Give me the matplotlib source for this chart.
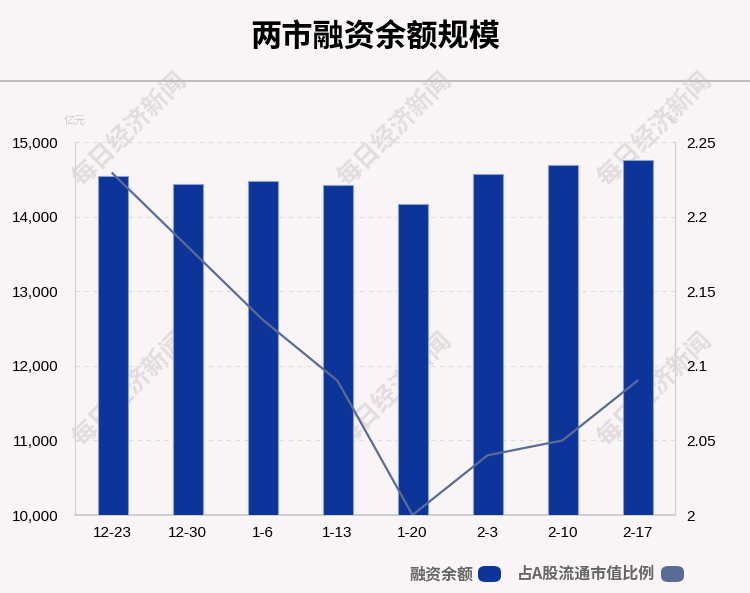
import numpy as np
import matplotlib
matplotlib.use('Agg')
from matplotlib import pyplot as plt
from matplotlib.patches import FancyBboxPatch

plt.rcParams['font.family'] = ['Liberation Sans', 'Noto Sans CJK SC', 'DejaVu Sans']

dates = ['12-23', '12-30', '1-6', '1-13', '1-20', '2-3', '2-10', '2-17']
balance = [14550, 14440, 14480, 14420, 14170, 14570, 14695, 14760]
ratio = [2.229, 2.18, 2.131, 2.09, 2.0, 2.04, 2.05, 2.09]

bg = '#f9f5f7'
bar_color = '#0d3499'
line_color = '#5a6b96'
cjk = ['Noto Sans CJK SC', 'DejaVu Sans']

fig = plt.figure(figsize=(7.5, 5.93), dpi=100)
fig.patch.set_facecolor(bg)

# title and separator
fig.text(0.5, 0.936, '两市融资余额规模', ha='center', va='center',
         fontsize=22.5, fontweight='bold', family=cjk)
fig.add_artist(plt.Line2D([0, 1], [1 - 81/593, 1 - 81/593], color='#bdbdbd', lw=1.5))

# watermarks (behind the plot)
for wx in [130, 395, 655]:
    for wy in [130, 390]:
        fig.text(wx/750, 1 - wy/593, '每日经济新闻', ha='center', va='center',
                 rotation=45, fontsize=18, fontweight='bold', color='#e3dcdf',
                 family=cjk, zorder=-1)

ax = fig.add_axes([0.1, 0.1315, 0.8, 0.629])
ax.set_facecolor('none')
x = np.arange(len(dates))
ax.bar(x, balance, width=0.4, color=bar_color, edgecolor='#8ea0d0', linewidth=0.8, zorder=3)
ax.set_ylim(10000, 15000)
ax.set_xlim(-0.5, len(dates) - 0.5)
ax.set_yticks(np.arange(10000, 15001, 1000))
ax.set_yticklabels(['{:,}'.format(v) for v in range(10000, 15001, 1000)])
ax.set_xticks(x)
ax.set_xticklabels(dates)
ax.yaxis.grid(True, linestyle=(0, (4, 4)), color='#dcdcdc', lw=0.8, zorder=0)
ax.tick_params(axis='both', length=0, labelsize=11, pad=8)
ax.tick_params(axis='y', pad=12)
ax.spines['top'].set_visible(False)
for s in ['left', 'right']:
    ax.spines[s].set_color('#d0d0d0')
ax.spines['bottom'].set_color('#c8c8c8')
ax.spines['bottom'].set_linewidth(1.2)

ax2 = ax.twinx()
ax2.plot(x, ratio, color=line_color, lw=1.6, zorder=4)
ax2.set_ylim(2, 2.25)
ax2.set_yticks([2, 2.05, 2.1, 2.15, 2.2, 2.25])
ax2.set_yticklabels(['2', '2.05', '2.1', '2.15', '2.2', '2.25'])
ax2.tick_params(axis='y', length=0, labelsize=11, pad=8)
for s in ['top', 'left', 'bottom']:
    ax2.spines[s].set_visible(False)
ax2.spines['right'].set_color('#d0d0d0')

# units
fig.text(75/750, 1 - 121/593, '亿元', ha='center', va='center', fontsize=8,
         color='#c8c8c8', family=cjk)
fig.text(673/750, 1 - 120/593, '%', ha='center', va='center', fontsize=7,
         color='#c8c8c8')

# legend
fig.text(473/750, 1 - 574/593, '融资余额', ha='right', va='center', fontsize=11.5,
         fontweight='bold', color='#666666', family=cjk)
fig.text(655/750, 1 - 574/593, '占A股流通市值比例', ha='right', va='center', fontsize=11.5,
         fontweight='bold', color='#666666', family=cjk)
for px, col in [(478, bar_color), (661, line_color)]:
    pill = FancyBboxPatch((px/750, 1 - 582/593), 23/750, 16/593,
                          boxstyle='round,pad=0,rounding_size=0.01',
                          transform=fig.transFigure, facecolor=col, edgecolor='none')
    fig.add_artist(pill)

plt.savefig('out.png', dpi=100, facecolor=bg)
